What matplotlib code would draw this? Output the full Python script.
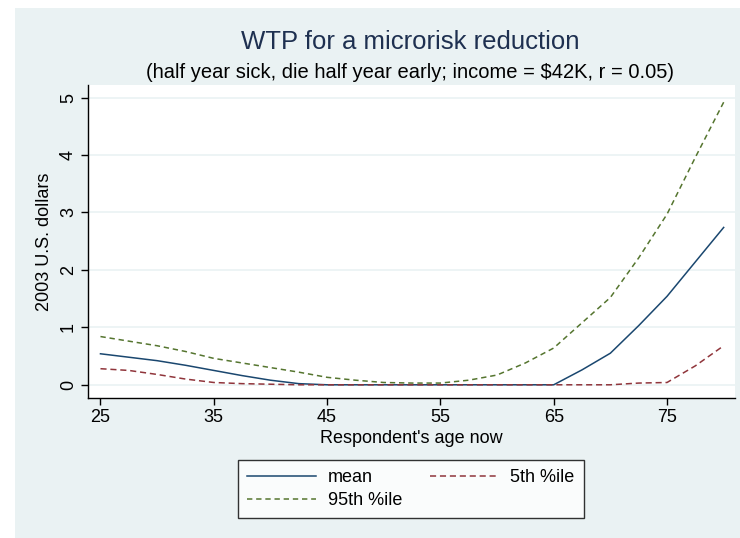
import matplotlib
matplotlib.use("Agg")
import matplotlib.pyplot as plt
from matplotlib.patches import Rectangle

ages = [25, 27.5, 30, 32.5, 35, 37.5, 40, 42.5, 45, 47.5, 50, 52.5, 55,
        57.5, 60, 62.5, 65, 67.5, 70, 72.5, 75, 77.5, 80]
mean = [0.54, 0.48, 0.42, 0.34, 0.25, 0.16, 0.08, 0.02, 0, 0, 0, 0, 0,
        0, 0, 0, 0, 0.26, 0.55, 1.03, 1.54, 2.14, 2.74]
p5 = [0.28, 0.25, 0.18, 0.10, 0.04, 0.02, 0.01, 0, 0, 0, 0, 0, 0,
      0, 0, 0, 0, 0, 0, 0.03, 0.04, 0.33, 0.68]
p95 = [0.84, 0.76, 0.68, 0.58, 0.46, 0.38, 0.30, 0.22, 0.13, 0.08, 0.04, 0.03, 0.03,
       0.08, 0.17, 0.38, 0.64, 1.08, 1.52, 2.21, 2.97, 3.96, 4.92]
xticks = [25, 35, 45, 55, 65, 75]
yticks = [0, 1, 2, 3, 4, 5]

plt.rcParams['font.family'] = ['Liberation Sans', 'DejaVu Sans']
W, H = 740, 538
fig = plt.figure(figsize=(W / 100, H / 100), dpi=100, facecolor='white')
bg = '#EAF2F3'
fig.patches.append(Rectangle((15 / W, 0), 1 - 15 / W, 1 - 8 / H,
                             transform=fig.transFigure, facecolor=bg,
                             edgecolor='none', zorder=-10))

ax = fig.add_axes([88 / W, 1 - 398 / H, (735 - 88) / W, (398 - 85) / H])
ax.set_facecolor('white')
navy = '#1A476F'
maroon = '#90353B'
green = '#55752F'
l1, = ax.plot(ages, mean, color=navy, lw=1.1, label='mean')
l2, = ax.plot(ages, p5, color=maroon, lw=1.1, ls=(0, (4, 2.5)), label='5th %ile')
l3, = ax.plot(ages, p95, color=green, lw=1.1, ls=(0, (3.5, 2.5)), label='95th %ile')

ax.set_xlim(23.9, 81.0)
ax.set_ylim(-0.23, 5.22)
ax.set_xticks(xticks)
ax.set_yticks(yticks)
ax.yaxis.grid(True, color=bg, lw=1.2)
ax.set_axisbelow(True)
for s in ['top', 'right']:
    ax.spines[s].set_visible(False)
for s in ['left', 'bottom']:
    ax.spines[s].set_color('black')
    ax.spines[s].set_linewidth(1.0)
ax.tick_params(direction='out', length=5, width=1, labelsize=13, colors='black',
               pad=3)
for lab in ax.get_yticklabels():
    lab.set_rotation(90)
    lab.set_va('center')
ax.set_xlabel("Respondent's age now", fontsize=13, labelpad=3)
ax.set_ylabel("2003 U.S. dollars", fontsize=13, labelpad=5)

fig.text(410 / W, 1 - 42 / H, "WTP for a microrisk reduction", ha='center',
         va='center', fontsize=18.5, color='#1E3050')
fig.text(410 / W, 1 - 72 / H,
         "(half year sick, die half year early; income = $42K, r = 0.05)",
         ha='center', va='center', fontsize=14.5, color='black')

leg = fig.legend([l1, l3, l2], ['mean', '95th %ile', '5th %ile'], ncol=2,
                 loc='center', bbox_to_anchor=(411 / W, 1 - 489 / H),
                 frameon=True, fancybox=False, edgecolor='black',
                 fontsize=13, handlelength=3.8, columnspacing=1.5,
                 handletextpad=0.67, borderpad=0.5, labelspacing=0.35)
leg.get_frame().set_linewidth(1.0)

fig.savefig('out.png', dpi=100, facecolor='white')
